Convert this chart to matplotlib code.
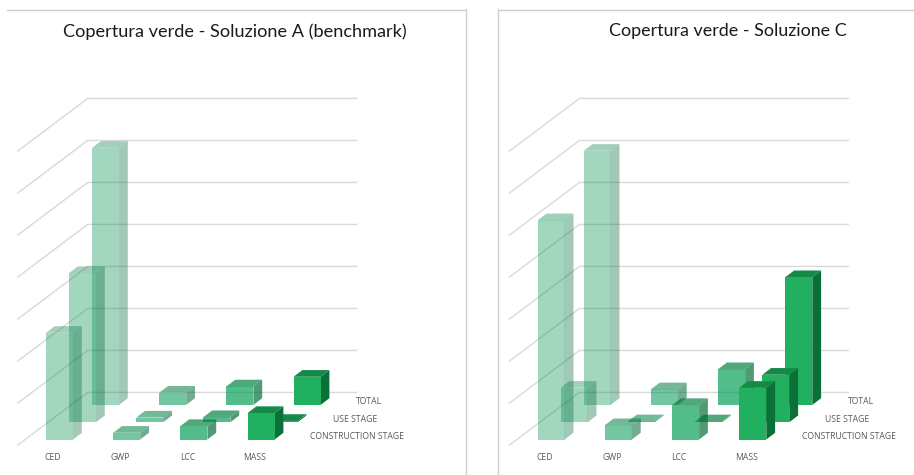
import matplotlib
matplotlib.use("Agg")
import matplotlib.pyplot as plt
from matplotlib.patches import Polygon

categories = ["CED", "GWP", "LCC", "MASS"]
stages = ["CONSTRUCTION STAGE", "USE STAGE", "TOTAL"]
title_a = "Copertura verde - Soluzione A (benchmark)"
title_c = "Copertura verde - Soluzione C"

a_construction = [2.54, 0.16, 0.32, 0.63]
a_use = [3.55, 0.11, 0.12, 0.03]
a_total = [6.12, 0.29, 0.44, 0.67]

c_construction = [5.22, 0.34, 0.82, 1.23]
c_use = [0.82, 0.02, 0.02, 1.13]
c_total = [6.05, 0.37, 0.85, 3.04]

grid_levels = [0, 1, 2, 3, 4, 5, 6, 7]

# colours for each category, the first three are see through
cat_alpha = [0.36, 0.55, 0.68, 1.0]
cat_front = ["#008f4e", "#009757", "#009c54", "#21b05f"]
cat_side = ["#00693a", "#006a38", "#006a35", "#0a7038"]
cat_top = ["#007f45", "#007f42", "#007f3c", "#148a46"]

# screen geometry of the fake 3d, in pixels
W, H = 914, 475
CAT_PX = 67.2
VAL_PX = 42.0
ROW_DX = 23.0 / CAT_PX
ROW_DY = 17.3 / VAL_PX
BAR_W = 27.0 / CAT_PX
BAR_DX = 8.8 / CAT_PX
BAR_DY = 6.7 / VAL_PX

GRID = "#d9d9d9"
FRAME = "#d0d0d0"
LABEL = "#595959"

plt.rcParams["font.family"] = ["Open Sans", "DejaVu Sans"]


def project(cat, row, val):
    return cat + row * ROW_DX, val + row * ROW_DY


def draw_bar(ax, cat, row, val):
    x0, y0 = project(cat, row, 0)
    x1 = x0 + BAR_W
    y1 = y0 + val
    side = [(x1, y0), (x1 + BAR_DX, y0 + BAR_DY), (x1 + BAR_DX, y1 + BAR_DY), (x1, y1)]
    top = [(x0, y1), (x1, y1), (x1 + BAR_DX, y1 + BAR_DY), (x0 + BAR_DX, y1 + BAR_DY)]
    front = [(x0, y0), (x1, y0), (x1, y1), (x0, y1)]
    for pts, col in ((side, cat_side[cat]), (top, cat_top[cat]), (front, cat_front[cat])):
        ax.add_patch(Polygon(pts, closed=True, facecolor=col, edgecolor="none", alpha=cat_alpha[cat], zorder=3))


def draw_panel(left_px, right_px, origin_px, spines, title, title_px, title_size, rows):
    top_px = 9.5
    base_py = 439.5
    ax = fig.add_axes([left_px / W, 0, (right_px - left_px) / W, (H - top_px) / H])
    ax.set_xlim((left_px - origin_px) / CAT_PX, (right_px - origin_px) / CAT_PX)
    ax.set_ylim((base_py - H) / VAL_PX, (base_py - top_px) / VAL_PX)
    ax.set_xticks([])
    ax.set_yticks([])
    for name, sp in ax.spines.items():
        sp.set_visible(name in spines)
        sp.set_color(FRAME)
        sp.set_linewidth(1.0)

    # gridlines on the two walls
    for g in grid_levels:
        xf, yf = project(-0.31, -0.32, g)
        xb, yb = project(-0.31, 2.72, g)
        xr, yr = project(3.69, 2.72, g)
        ax.plot([xf, xb, xr], [yf, yb, yr], color=GRID, lw=1.0, zorder=1)

    # back row first so the front rows sit on top
    for r in range(len(rows) - 1, -1, -1):
        for c, val in enumerate(rows[r]):
            draw_bar(ax, c, r, val)

    for c, name in enumerate(categories):
        ax.text(c + 0.105, -17.5 / VAL_PX, name, ha="center", va="center", fontsize=6.2, color=LABEL)
    for r, name in enumerate(stages):
        x, y = project(3.93, r, 0.07)
        ax.text(x, y, name, ha="left", va="center", fontsize=6.2, color=LABEL)

    ax.text((title_px - origin_px) / CAT_PX, (base_py - 31.5) / VAL_PX, title, ha="center", va="center",
            fontsize=title_size, color="#1a1a1a", family=["Lato", "DejaVu Sans"])
    return ax


fig = plt.figure(figsize=(W / 100, H / 100), dpi=100)
draw_panel(7, 465.5, 46, ("top", "right"), title_a, 235, 13.05, [a_construction, a_use, a_total])
draw_panel(497.5, 914, 537.7, ("top", "left"), title_c, 728, 12.9, [c_construction, c_use, c_total])
fig.savefig("out.png", dpi=100)
